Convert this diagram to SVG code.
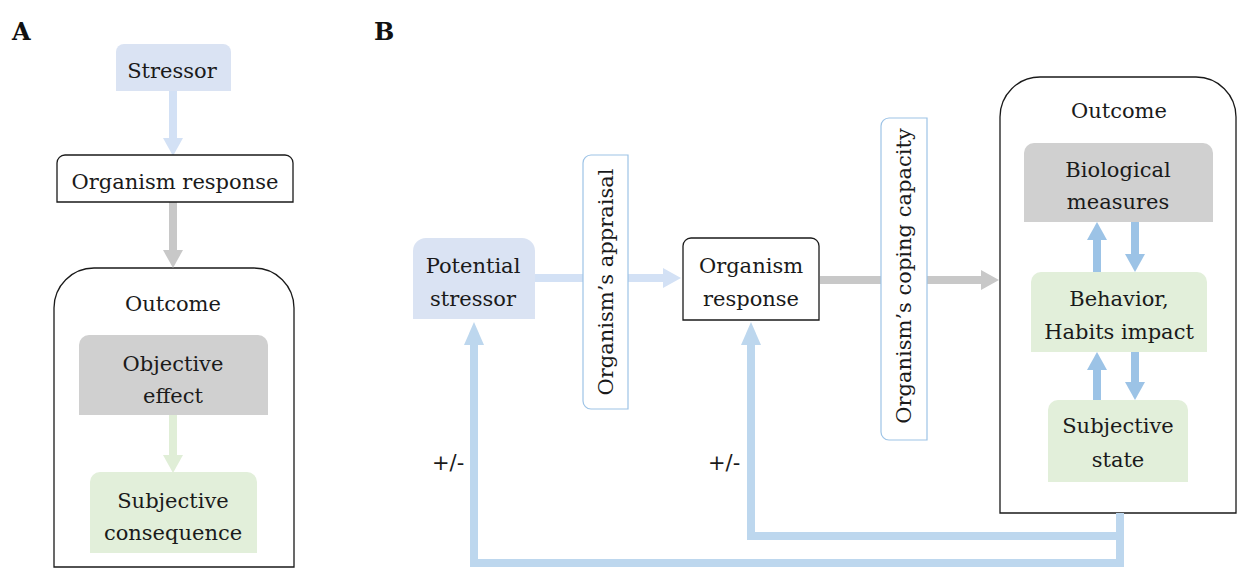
<svg xmlns="http://www.w3.org/2000/svg" width="1237" height="569" viewBox="0 0 1237 569">
<style>
text{font-family:"DejaVu Serif","Liberation Serif",serif;font-size:21px;fill:#1a1a1a;text-anchor:middle}
.panel{font-size:24px;font-weight:bold;text-anchor:start;fill:#111}
.pm{font-family:"DejaVu Sans","Liberation Sans",sans-serif;font-size:21px;text-anchor:start}
.blue{fill:#dae3f3}
.gray{fill:#d0d0d0}
.green{fill:#e2efda}
.white{fill:#fff;stroke:#1a1a1a;stroke-width:1.3}
.vlab{fill:#fff;stroke:#9dc3e6;stroke-width:1.2}
.cont{fill:#fff;stroke:#1a1a1a;stroke-width:1.3}
.c{fill:none;stroke-width:8;stroke-linejoin:miter}
.cLB{stroke:#d3e1f5}
.cG{stroke:#c8c8c8}
.cGr{stroke:#e0eed7}
.cFB{stroke:#bdd7ee}
.cIB{stroke:#9cc3e6}
</style>
<defs>
<marker id="hLB" markerUnits="userSpaceOnUse" markerWidth="18" markerHeight="20" refX="0" refY="10" orient="auto"><path d="M0,0 L18,10 L0,20 Z" fill="#d3e1f5"/></marker>
<marker id="hG" markerUnits="userSpaceOnUse" markerWidth="18" markerHeight="20" refX="0" refY="10" orient="auto"><path d="M0,0 L18,10 L0,20 Z" fill="#c8c8c8"/></marker>
<marker id="hGr" markerUnits="userSpaceOnUse" markerWidth="18" markerHeight="20" refX="0" refY="10" orient="auto"><path d="M0,0 L18,10 L0,20 Z" fill="#e0eed7"/></marker>
<marker id="hFB" markerUnits="userSpaceOnUse" markerWidth="23" markerHeight="20" refX="0" refY="10" orient="auto"><path d="M0,0 L23,10 L0,20 Z" fill="#bdd7ee"/></marker>
<marker id="hIB" markerUnits="userSpaceOnUse" markerWidth="18" markerHeight="20" refX="0" refY="10" orient="auto"><path d="M0,0 L18,10 L0,20 Z" fill="#9cc3e6"/></marker>
</defs>

<text class="panel" x="12" y="40">A</text>
<text class="panel" x="374" y="40">B</text>

<g id="A-outcome">
  <path class="cont" d="M54,567 V308 A40,40 0 0 1 94,268 H254 A40,40 0 0 1 294,308 V567 Z"/>
  <text x="173" y="311">Outcome</text>
</g>
<g id="B-outcome">
  <path class="cont" d="M1000,513 V117 A40,40 0 0 1 1040,77 H1196 A40,40 0 0 1 1236,117 V513 Z"/>
  <text x="1119" y="118">Outcome</text>
</g>

<g id="connectors">
  <!-- Panel A -->
  <path class="c cLB" d="M173,91 V138" marker-end="url(#hLB)"/>
  <path class="c cG" d="M173,202 V250" marker-end="url(#hG)"/>
  <path class="c cGr" d="M173,415 V455" marker-end="url(#hGr)"/>
  <!-- Panel B -->
  <path class="c cLB" d="M535,278 H663" marker-end="url(#hLB)"/>
  <path class="c cG" d="M820,280 H981" marker-end="url(#hG)"/>
  <path class="c cIB" d="M1097,272 V240" marker-end="url(#hIB)"/>
  <path class="c cIB" d="M1135,222 V254" marker-end="url(#hIB)"/>
  <path class="c cIB" d="M1097,400 V370" marker-end="url(#hIB)"/>
  <path class="c cIB" d="M1135,352 V382" marker-end="url(#hIB)"/>
  <path class="c cFB" d="M1120,513 V567"/>
  <path class="c cFB" d="M1120,536 H751 V345" marker-end="url(#hFB)"/>
  <path class="c cFB" d="M1120,563 H474 V345" marker-end="url(#hFB)"/>
</g>

<g id="A-stressor">
  <path class="blue" d="M116,91 V52 A8,8 0 0 1 124,44 H223 A8,8 0 0 1 231,52 V91 Z"/>
  <text x="172" y="78">Stressor</text>
</g>
<g id="A-response">
  <path class="white" d="M57,202 V163 A8,8 0 0 1 65,155 H285 A8,8 0 0 1 293,163 V202 Z"/>
  <text x="175" y="189">Organism response</text>
</g>
<g id="A-objective">
  <path class="gray" d="M79,415 V345 A10,10 0 0 1 89,335 H258 A10,10 0 0 1 268,345 V415 Z"/>
  <text x="173" y="371">Objective</text>
  <text x="173" y="403">effect</text>
</g>
<g id="A-subjective">
  <path class="green" d="M90,553 V482 A10,10 0 0 1 100,472 H247 A10,10 0 0 1 257,482 V553 Z"/>
  <text x="173" y="508">Subjective</text>
  <text x="173" y="540">consequence</text>
</g>

<g id="B-potential">
  <path class="blue" d="M413,319 V251 A13,13 0 0 1 426,238 H522 A13,13 0 0 1 535,251 V319 Z"/>
  <text x="473" y="273">Potential</text>
  <text x="473" y="306">stressor</text>
</g>
<g id="B-appraisal">
  <path class="vlab" d="M628,155 V409 H591 A8,8 0 0 1 583,401 V163 A8,8 0 0 1 591,155 Z"/>
  <text transform="translate(613,282) rotate(-90)">Organism’s appraisal</text>
</g>
<g id="B-response">
  <path class="white" d="M683,320 V246 A8,8 0 0 1 691,238 H811 A8,8 0 0 1 819,246 V320 Z"/>
  <text x="751" y="273">Organism</text>
  <text x="751" y="306">response</text>
</g>
<g id="B-coping">
  <path class="vlab" d="M927,118 V440 H889 A8,8 0 0 1 881,432 V126 A8,8 0 0 1 889,118 Z"/>
  <text transform="translate(911,276) rotate(-90)">Organism’s coping capacity</text>
</g>
<g id="B-biological">
  <path class="gray" d="M1024,222 V153 A10,10 0 0 1 1034,143 H1203 A10,10 0 0 1 1213,153 V222 Z"/>
  <text x="1118" y="177">Biological</text>
  <text x="1118" y="209">measures</text>
</g>
<g id="B-behavior">
  <path class="green" d="M1031,352 V282 A10,10 0 0 1 1041,272 H1197 A10,10 0 0 1 1207,282 V352 Z"/>
  <text x="1119" y="306">Behavior,</text>
  <text x="1119" y="339">Habits impact</text>
</g>
<g id="B-subjective">
  <path class="green" d="M1048,482 V410 A10,10 0 0 1 1058,400 H1178 A10,10 0 0 1 1188,410 V482 Z"/>
  <text x="1118" y="433">Subjective</text>
  <text x="1118" y="467">state</text>
</g>

<g id="labels">
  <text class="pm" x="432" y="470">+/-</text>
  <text class="pm" x="708" y="470">+/-</text>
</g>
</svg>
